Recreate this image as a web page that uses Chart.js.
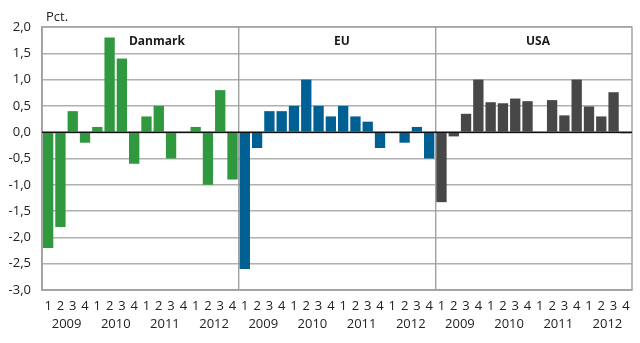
<!DOCTYPE html>
<html>
<head>
<meta charset="utf-8">
<script src="https://cdn.jsdelivr.net/npm/chart.js@4/dist/chart.umd.min.js"></script>
<style>
  body { margin: 0; background: #fff; }
  .wrap { width: 640px; height: 343px; position: relative; }
</style>
</head>
<body>
<div class="wrap"><canvas id="growthChart"></canvas></div>
<script>
// data
const regions = ['Danmark', 'EU', 'USA'];
const years = ['2009', '2010', '2011', '2012'];
const quarters = ['1', '2', '3', '4'];

const danmark = [-2.2, -1.8, 0.4, -0.2, 0.1, 1.8, 1.4, -0.6, 0.3, 0.5, -0.5, 0, 0.1, -1.0, 0.8, -0.9];
const eu = [-2.6, -0.3, 0.4, 0.4, 0.5, 1.0, 0.5, 0.3, 0.5, 0.3, 0.2, -0.3, 0, -0.2, 0.1, -0.5];
const usa = [-1.33, -0.08, 0.35, 1.0, 0.57, 0.55, 0.64, 0.59, 0, 0.61, 0.32, 1.0, 0.49, 0.3, 0.76, -0.02];

const regionColors = ['#30993f', '#005f93', '#474747'];

// build labels / colours for the 48 bars
const labels = [];
const yearLabels = [];
const colors = [];
regions.forEach((r, ri) => {
  years.forEach(y => {
    yearLabels.push(y);
    quarters.forEach(q => {
      labels.push(q);
      colors.push(regionColors[ri]);
    });
  });
});
const values = danmark.concat(eu, usa);

// frame, panel titles + zero line on top of bars
const panelPlugin = {
  id: 'panelPlugin',
  beforeDatasetsDraw(chart) {
    const ctx = chart.ctx;
    const a = chart.chartArea;
    ctx.save();
    ctx.strokeStyle = '#a0a0a0';
    ctx.lineWidth = 1.4;
    ctx.strokeRect(a.left, a.top, a.right - a.left, a.bottom - a.top);
    ctx.restore();
  },
  afterDatasetsDraw(chart) {
    const ctx = chart.ctx;
    const x = chart.scales.x;
    const y = chart.scales.y;
    const area = chart.chartArea;

    // zero line
    ctx.save();
    ctx.strokeStyle = '#111';
    ctx.lineWidth = 1.6;
    ctx.beginPath();
    ctx.moveTo(area.left, y.getPixelForValue(0));
    ctx.lineTo(area.right, y.getPixelForValue(0));
    ctx.stroke();

    // titles
    ctx.fillStyle = '#1a1a1a';
    ctx.font = 'bold 12px "Open Sans"';
    ctx.textAlign = 'center';
    ctx.textBaseline = 'middle';
    const titlePos = [8.85, 23.9, 39.85];
    regions.forEach((r, i) => {
      ctx.fillText(r, x.getPixelForValue(titlePos[i]), 42);
    });

    // unit
    ctx.font = '13px "Open Sans"';
    ctx.textAlign = 'left';
    ctx.fillStyle = '#222';
    ctx.fillText('Pct.', 46, 17);
    ctx.restore();
  }
};

const ctx = document.getElementById('growthChart').getContext('2d');
new Chart(ctx, {
  type: 'bar',
  data: {
    labels: labels,
    datasets: [{
      data: values,
      backgroundColor: colors,
      borderWidth: 0,
      barPercentage: 0.84,
      categoryPercentage: 1.0
    }]
  },
  options: {
    responsive: true,
    maintainAspectRatio: false,
    animation: false,
    layout: { padding: { top: 27, right: 8, left: 0, bottom: 0 } },
    plugins: {
      legend: { display: false },
      tooltip: { enabled: false }
    },
    scales: {
      y: {
        min: -3,
        max: 2,
        afterFit: scale => { scale.width = 42; },
        ticks: {
          stepSize: 0.5,
          padding: 11,
          color: '#222',
          font: { family: '"Open Sans"', size: 13 },
          callback: v => v.toFixed(1).replace('.', ',')
        },
        grid: {
          drawTicks: false,
          color: '#b0b0b0',
          lineWidth: 1.4
        },
        border: { display: true, color: '#a0a0a0', width: 1.4 }
      },
      x: {
        afterFit: scale => { scale.height = 25; },
        ticks: {
          padding: 8,
          color: '#222',
          autoSkip: false,
          maxRotation: 0,
          font: { family: '"Open Sans"', size: 13 }
        },
        grid: {
          drawTicks: false,
          offset: true,
          lineWidth: 1.4,
          color: c => (c.index % 16 === 0 ? '#a0a0a0' : 'rgba(0,0,0,0)')
        },
        border: { display: true, color: '#a0a0a0', width: 1.4 }
      },
      years: {
        type: 'category',
        position: 'bottom',
        labels: yearLabels,
        offset: true,
        afterFit: scale => { scale.height = 28; },
        ticks: {
          padding: 1,
          color: '#222',
          autoSkip: false,
          maxRotation: 0,
          font: { family: '"Open Sans"', size: 13 }
        },
        grid: { display: false, drawTicks: false },
        border: { display: false }
      }
    }
  },
  plugins: [panelPlugin]
});
</script>
</body>
</html>
